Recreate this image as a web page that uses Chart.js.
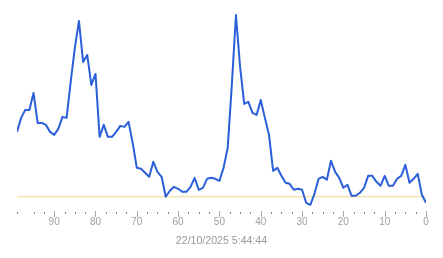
<!DOCTYPE html>
<html>
<head>
<meta charset="utf-8">
<script src="https://cdn.jsdelivr.net/npm/chart.js@4.4.1/dist/chart.umd.min.js"></script>
<style>
  html, body { margin: 0; padding: 0; background: #ffffff; }
  #wrap { width: 443px; height: 258px; }
</style>
</head>
<body>
<div id="wrap"><canvas id="c" width="443" height="258"></canvas></div>
<script>
// values ordered from oldest (99) to newest (0)
const values = [
  78, 92, 100, 100, 117, 87, 87, 85, 78, 75,
  81, 93, 92, 128, 162, 189, 148, 155, 125, 136,
  73, 85, 73, 73, 78, 84, 83, 88, 67, 42,
  41, 37, 33, 48, 38, 33, 13, 19, 23, 21,
  18, 18, 23, 32, 20, 22, 31, 32, 31, 29,
  42, 62, 125, 195, 143, 106, 108, 97, 95, 110,
  92, 75, 39, 42, 34, 27, 26, 20, 21, 20,
  7, 5, 16, 31, 33, 30, 49, 38, 32, 22,
  25, 14, 14, 17, 22, 34, 34, 28, 24, 34,
  24, 24, 31, 34, 45, 27, 31, 36, 15, 7
];
const threshold = 13;
const xMin = 0;
const xMax = 99;
const tickStep = 2.5;
const labelStep = 10;
const titleText = '22/10/2025 5:44:44';

const points = values.map((v, i) => ({ x: values.length - 1 - i, y: v }));
const thresholdPoints = [{ x: xMax, y: threshold }, { x: xMin, y: threshold }];

const tickMarks = {
  id: 'tickMarks',
  afterDraw(chart) {
    const sc = chart.scales.x;
    const ctx = chart.ctx;
    const b = Math.round(chart.chartArea.bottom);
    ctx.save();
    sc.ticks.forEach(t => {
      const v = t.value;
      if (Math.abs(v * 2 - Math.round(v * 2)) > 1e-6) return;
      const px = Math.round(sc.getPixelForValue(v)) + 0.5;
      if (Math.abs(v % labelStep) < 1e-6) {
        ctx.strokeStyle = '#aaaaaa';
        ctx.lineWidth = 1;
        ctx.beginPath();
        ctx.moveTo(px, b + 1);
        ctx.lineTo(px, b + 7);
        ctx.stroke();
      } else {
        ctx.fillStyle = '#888888';
        ctx.fillRect(px - 0.5, b + 2, 1, 2);
      }
    });
    ctx.restore();
  }
};

new Chart(document.getElementById('c'), {
  type: 'line',
  data: {
    datasets: [
      {
        data: points,
        borderColor: '#2b5fd9',
        borderWidth: 2,
        pointRadius: 0,
        tension: 0,
        fill: false,
        borderJoinStyle: 'round'
      },
      {
        data: thresholdPoints,
        borderColor: '#f0d98a',
        borderWidth: 1,
        pointRadius: 0,
        fill: false
      }
    ]
  },
  options: {
    responsive: false,
    animation: false,
    events: [],
    layout: { padding: { top: 11, left: 17, right: 17, bottom: 0 } },
    plugins: {
      legend: { display: false },
      tooltip: { enabled: false },
      title: {
        display: true,
        text: titleText,
        position: 'bottom',
        color: '#999999',
        font: { family: 'Liberation Sans, Arial, sans-serif', size: 10.6, weight: 'normal' },
        padding: { top: 6, bottom: 11 }
      }
    },
    scales: {
      x: {
        type: 'linear',
        reverse: true,
        min: xMin,
        max: xMax,
        border: { display: false },
        grid: { display: true, drawOnChartArea: false, drawTicks: true, tickLength: 6, tickColor: 'rgba(0,0,0,0)' },
        ticks: {
          stepSize: tickStep,
          autoSkip: false,
          maxRotation: 0,
          padding: 0,
          color: '#a0a0a0',
          font: { family: 'Liberation Sans, Arial, sans-serif', size: 10 },
          callback: (v) => (Math.abs(v % labelStep) < 1e-6 ? String(v) : '')
        }
      },
      y: {
        display: false,
        min: -0.5,
        max: 199
      }
    }
  },
  plugins: [tickMarks]
});
</script>
</body>
</html>
